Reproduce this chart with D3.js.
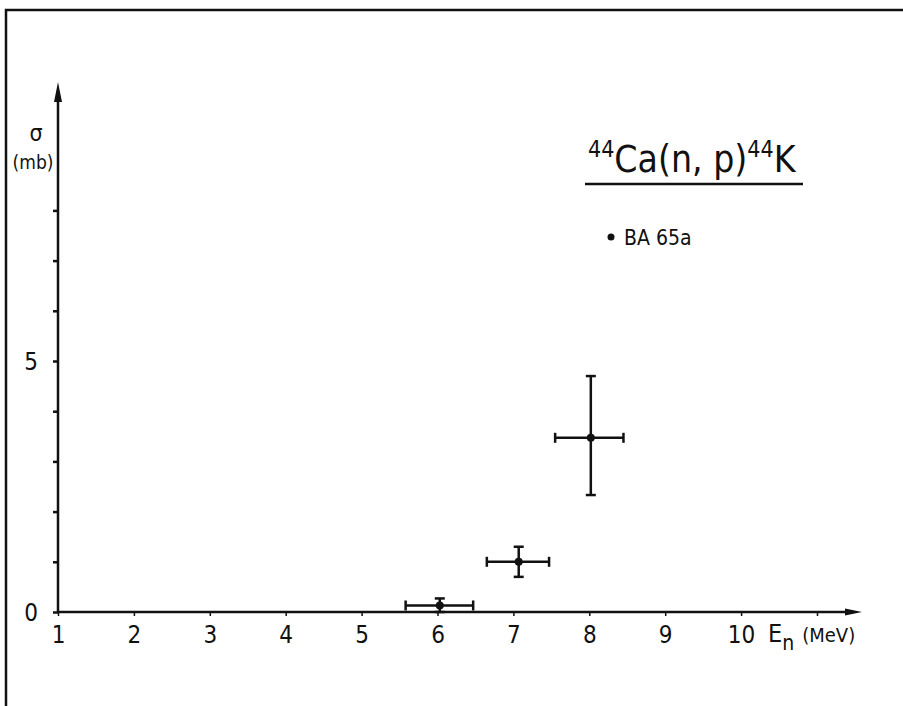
<!DOCTYPE html>
<html>
<head>
<meta charset="utf-8">
<script src="https://cdn.jsdelivr.net/npm/d3@7"></script>
<style>
  body { margin: 0; background: #fff; }
  svg text { font-family: "DejaVu Sans Condensed", "DejaVu Sans", sans-serif; fill: #111; }
</style>
</head>
<body>
<svg id="canvas" width="903" height="706"></svg>
<script>
// measured points (BA 65a)
const energy = [6.03, 7.07, 8.02];
const sigma = [0.13, 1.0, 3.47];
const energyLow = [5.58, 6.65, 7.55];
const energyHigh = [6.47, 7.47, 8.45];
const sigmaLow = [0.0, 0.7, 2.33];
const sigmaHigh = [0.27, 1.3, 4.7];

const xTicks = [1, 2, 3, 4, 5, 6, 7, 8, 9, 10, 11];
const xTickLabels = ["1", "2", "3", "4", "5", "6", "7", "8", "9", "10", ""];
const yTicks = [0, 1, 2, 3, 4, 5, 6, 7, 8];
const yTickLabels = ["0", "", "", "", "", "5", "", "", ""];

const canvas = d3.select("#canvas");
const ink = "#111";

const x = d3.scaleLinear().domain([1, 11]).range([58, 817]);
const y = d3.scaleLinear().domain([0, 10]).range([612, 110]);

// frame (top and left only)
canvas.append("path")
  .attr("d", "M6,706 V10 H903")
  .attr("fill", "none")
  .attr("stroke", ink)
  .attr("stroke-width", 2.5);

// x axis
const xAxis = d3.axisBottom(x)
  .tickValues(xTicks)
  .tickSize(4)
  .tickFormat((d, i) => xTickLabels[i]);
const gx = canvas.append("g")
  .attr("transform", `translate(0,${y(0)})`)
  .call(xAxis);
gx.select(".domain").remove();
gx.selectAll(".tick line").attr("stroke", ink).attr("stroke-width", 1.5);
gx.selectAll(".tick text")
  .attr("font-size", 24)
  .attr("dy", 0)
  .attr("y", 31)
  .attr("font-family", "DejaVu Sans Condensed, DejaVu Sans, sans-serif");

canvas.append("line")
  .attr("x1", x(1)).attr("x2", 850)
  .attr("y1", y(0)).attr("y2", y(0))
  .attr("stroke", ink).attr("stroke-width", 2.5);
canvas.append("path")
  .attr("d", `M862,${y(0)} L845,${y(0) - 3.5} L845,${y(0) + 3.5} Z`)
  .attr("fill", ink);

// y axis
const yAxis = d3.axisLeft(y)
  .tickValues(yTicks)
  .tickSize(5)
  .tickFormat((d, i) => yTickLabels[i]);
const gy = canvas.append("g")
  .attr("transform", `translate(${x(1)},0)`)
  .call(yAxis);
gy.select(".domain").remove();
gy.selectAll(".tick line").attr("stroke", ink).attr("stroke-width", 2.5);
gy.selectAll(".tick text")
  .attr("font-size", 24)
  .attr("x", -20)
  .attr("dy", "0.35em");

canvas.append("line")
  .attr("x1", x(1)).attr("x2", x(1))
  .attr("y1", y(0)).attr("y2", 95)
  .attr("stroke", ink).attr("stroke-width", 2.5);
canvas.append("path")
  .attr("d", `M${x(1)},82 L${x(1) - 4},102 L${x(1) + 4},102 Z`)
  .attr("fill", ink);

// axis titles
canvas.append("text")
  .attr("x", 36).attr("y", 141)
  .attr("text-anchor", "middle")
  .attr("font-size", 23)
  .text("σ");
canvas.append("text")
  .attr("x", 33).attr("y", 169)
  .attr("text-anchor", "middle")
  .attr("font-size", 19)
  .text("(mb)");

const en = canvas.append("text")
  .attr("x", 768).attr("y", 642)
  .attr("font-size", 25);
en.append("tspan").text("E");
en.append("tspan").attr("font-size", 21).attr("dy", 8).text("n");
en.append("tspan").attr("font-size", 20).attr("dy", -8).attr("dx", 8).text("(MeV)");

// title and legend
const title = canvas.append("text")
  .attr("x", 588).attr("y", 172)
  .attr("font-size", 37);
title.append("tspan").attr("font-size", 23).attr("dy", -15).text("44");
title.append("tspan").attr("dy", 15).text("Ca(n, p)");
title.append("tspan").attr("font-size", 23).attr("dy", -15).text("44");
title.append("tspan").attr("dy", 15).text("K");

canvas.append("line")
  .attr("x1", 585).attr("x2", 803)
  .attr("y1", 184).attr("y2", 184)
  .attr("stroke", ink).attr("stroke-width", 2.5);

canvas.append("circle")
  .attr("cx", 611).attr("cy", 237).attr("r", 3.5)
  .attr("fill", ink);
canvas.append("text")
  .attr("x", 624).attr("y", 245)
  .attr("font-size", 21)
  .text("BA 65a");

// data points with error bars
const pts = energy.map((e, i) => ({
  e, s: sigma[i],
  e0: energyLow[i], e1: energyHigh[i],
  s0: sigmaLow[i], s1: sigmaHigh[i]
}));

const g = canvas.append("g")
  .attr("stroke", ink)
  .attr("stroke-width", 2.5);

g.selectAll(".xerr").data(pts).enter().append("line")
  .attr("x1", (d) => x(d.e0)).attr("x2", (d) => x(d.e1))
  .attr("y1", (d) => y(d.s)).attr("y2", (d) => y(d.s));
g.selectAll(".xcap0").data(pts).enter().append("line")
  .attr("x1", (d) => x(d.e0)).attr("x2", (d) => x(d.e0))
  .attr("y1", (d) => y(d.s) - 5).attr("y2", (d) => y(d.s) + 5);
g.selectAll(".xcap1").data(pts).enter().append("line")
  .attr("x1", (d) => x(d.e1)).attr("x2", (d) => x(d.e1))
  .attr("y1", (d) => y(d.s) - 5).attr("y2", (d) => y(d.s) + 5);
g.selectAll(".yerr").data(pts).enter().append("line")
  .attr("x1", (d) => x(d.e)).attr("x2", (d) => x(d.e))
  .attr("y1", (d) => y(d.s0)).attr("y2", (d) => y(d.s1));
g.selectAll(".ycap0").data(pts).enter().append("line")
  .attr("x1", (d) => x(d.e) - 5).attr("x2", (d) => x(d.e) + 5)
  .attr("y1", (d) => y(d.s0)).attr("y2", (d) => y(d.s0));
g.selectAll(".ycap1").data(pts).enter().append("line")
  .attr("x1", (d) => x(d.e) - 5).attr("x2", (d) => x(d.e) + 5)
  .attr("y1", (d) => y(d.s1)).attr("y2", (d) => y(d.s1));

canvas.selectAll(".pt").data(pts).enter().append("circle")
  .attr("cx", (d) => x(d.e))
  .attr("cy", (d) => y(d.s))
  .attr("r", 4)
  .attr("fill", ink);
</script>
</body>
</html>
